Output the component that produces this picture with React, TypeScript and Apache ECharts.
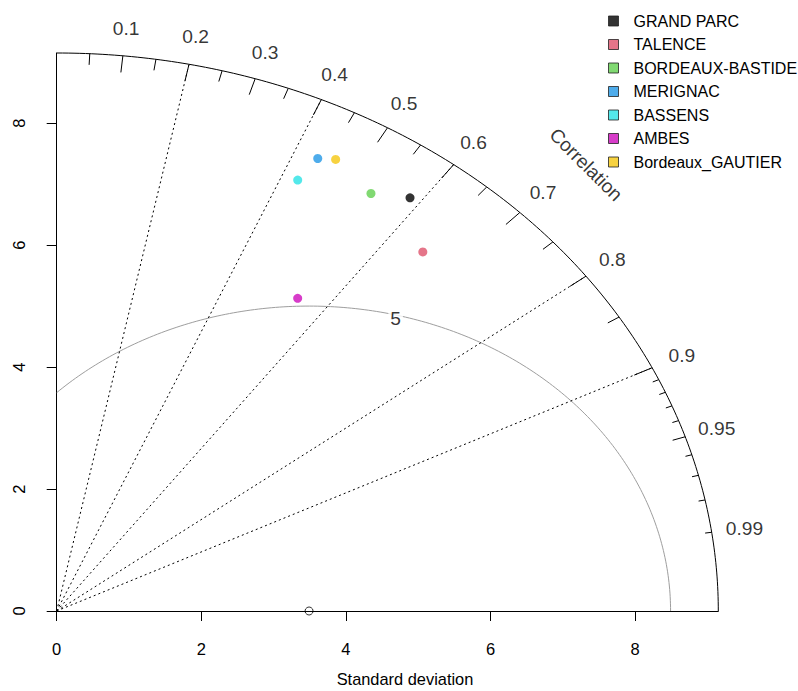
import React, { useEffect, useRef } from "react";
import * as echarts from "echarts";

// ---- data ----
const stations = [
  "GRAND PARC",
  "TALENCE",
  "BORDEAUX-BASTIDE",
  "MERIGNAC",
  "BASSENS",
  "AMBES",
  "Bordeaux_GAUTIER",
];
const stationSd = [8.353, 7.766, 8.109, 8.252, 7.813, 6.115, 8.35];
const stationCor = [0.585, 0.652, 0.536, 0.4375, 0.4266, 0.545, 0.462];
const stationColors = ["#000000", "#DF536B", "#61D04F", "#2297E6", "#28E2E5", "#CD0BBC", "#F5C710"];

const refSd = 3.49;
const maxSd = 9.15;
const rmsLevels = [5];
const rmsLabelAngleDeg = [76];
const corLines = [0.2, 0.4, 0.6, 0.8, 0.9];
const corLabels = [0.1, 0.2, 0.3, 0.4, 0.5, 0.6, 0.7, 0.8, 0.9, 0.95, 0.99];
const bigTicks = [0.1, 0.2, 0.3, 0.4, 0.5, 0.6, 0.7, 0.8, 0.9];
const medTicks = [0.05, 0.15, 0.25, 0.35, 0.45, 0.55, 0.65, 0.75, 0.85, 0.95];
const smallTicks = [0.91, 0.92, 0.93, 0.94, 0.96, 0.97, 0.98, 0.99];
const sdTicks = [0, 2, 4, 6, 8];

const FONT = "'Liberation Sans', Arial, sans-serif";
const PFONT = 19.2;

function polar(r: number, c: number): [number, number] {
  return [r * c, r * Math.sqrt(Math.max(0, 1 - c * c))];
}

export default function App() {
  const ref = useRef<HTMLDivElement>(null);
  useEffect(() => {
    if (!ref.current) return;
    const chart = echarts.init(ref.current, null, { renderer: "svg" });

    // outer arc
    const arc: number[][] = [];
    for (let a = 0; a <= 90.0001; a += 0.5) {
      const t = (a * Math.PI) / 180;
      arc.push([maxSd * Math.cos(t), maxSd * Math.sin(t)]);
    }

    // rms circles
    const rmsSeries = rmsLevels.map((g) => {
      const pts: number[][] = [];
      const tMax = Math.acos(Math.max(-1, -refSd / g));
      const n = 200;
      for (let i = 0; i <= n; i++) {
        const t = (tMax * i) / n;
        pts.push([refSd + g * Math.cos(t), g * Math.sin(t)]);
      }
      return {
        type: "line",
        data: pts,
        showSymbol: false,
        symbol: "none",
        clip: false,
        silent: true,
        lineStyle: { color: "#9E9E9E", width: 1 },
        z: 2,
      };
    });

    const rmsLabelData = rmsLevels.map((g, i) => {
      const t = (rmsLabelAngleDeg[i] * Math.PI) / 180;
      const r = g * 0.99;
      return [refSd + r * Math.cos(t), r * Math.sin(t), String(g)];
    });

    const corLineSeries = corLines.map((c) => ({
      type: "line",
      data: [[0, 0], polar(maxSd, c)],
      showSymbol: false,
      symbol: "none",
      clip: false,
      silent: true,
      lineStyle: { color: "#000", width: 1, type: [2, 3] },
      z: 2,
    }));

    const tickData = [
      ...bigTicks.map((c) => [c, 0.97]),
      ...medTicks.map((c) => [c, 0.98]),
      ...smallTicks.map((c) => [c, 0.99]),
    ];

    const corLabelData = corLabels.map((c) => {
      const p = polar(maxSd * 1.05, c);
      return [p[0], p[1], String(c)];
    });

    const stationSeries = stations.map((name, i) => ({
      type: "scatter",
      name,
      data: [polar(stationSd[i], stationCor[i])],
      symbol: "circle",
      symbolSize: 9,
      clip: false,
      itemStyle: { color: stationColors[i] },
      z: 5,
    }));

    const option: any = {
      animation: false,
      backgroundColor: "#fff",
      textStyle: { fontFamily: FONT },
      grid: { left: 56.7, top: 53, width: 661.6, height: 558, containLabel: false },
      xAxis: {
        type: "value",
        min: 0,
        max: maxSd,
        axisLine: { show: true, onZero: false, lineStyle: { color: "#000", width: 1 } },
        axisTick: { show: true, length: 10, customValues: sdTicks, lineStyle: { color: "#000" } },
        axisLabel: { customValues: sdTicks, fontSize: 16.5, color: "#000", margin: 29, fontFamily: FONT },
        splitLine: { show: false },
      },
      yAxis: {
        type: "value",
        min: 0,
        max: maxSd,
        axisLine: { show: true, onZero: false, lineStyle: { color: "#000", width: 1 } },
        axisTick: { show: true, length: 10, customValues: sdTicks, lineStyle: { color: "#000" } },
        axisLabel: { customValues: sdTicks, fontSize: 16.5, color: "#000", margin: 29, rotate: 90, fontFamily: FONT },
        splitLine: { show: false },
      },
      legend: {
        orient: "vertical",
        left: 608,
        top: 13,
        padding: 0,
        itemWidth: 10,
        itemHeight: 10,
        itemGap: 7.5,
        icon: "rect",
        itemStyle: { borderColor: "#222", borderWidth: 1 },
        textStyle: { fontSize: 16, color: "#000", fontFamily: FONT, padding: [0, 0, 0, 10] },
        data: stations,
      },
      graphic: [
        {
          type: "text",
          x: 405,
          y: 679,
          style: {
            text: "Standard deviation",
            fontSize: 16.4,
            fontFamily: FONT,
            fill: "#000",
            textAlign: "center",
            textVerticalAlign: "middle",
          },
        },
      ],
      series: [
        ...rmsSeries,
        ...corLineSeries,
        {
          type: "line",
          data: arc,
          showSymbol: false,
          symbol: "none",
          clip: false,
          silent: true,
          lineStyle: { color: "#000", width: 1 },
          z: 3,
        },
        {
          type: "custom",
          data: tickData,
          clip: false,
          silent: true,
          z: 3,
          renderItem: (params: any, api: any) => {
            const c = api.value(0);
            const f = api.value(1);
            const o = polar(maxSd, c);
            const inn = polar(maxSd * f, c);
            const p1 = api.coord(o);
            const p2 = api.coord(inn);
            return {
              type: "line",
              shape: { x1: p1[0], y1: p1[1], x2: p2[0], y2: p2[1] },
              style: { stroke: "#000", lineWidth: 1 },
            };
          },
        },
        {
          type: "scatter",
          data: corLabelData,
          symbol: "circle",
          symbolSize: 1,
          clip: false,
          silent: true,
          itemStyle: { color: "rgba(0,0,0,0)" },
          label: {
            show: true,
            position: "inside",
            formatter: (p: any) => p.value[2],
            fontSize: PFONT,
            color: "#000",
            fontFamily: FONT,
          },
        },
        {
          type: "scatter",
          data: [[0.8 * maxSd, 0.8 * maxSd, "Correlation"]],
          symbol: "circle",
          symbolSize: 1,
          clip: false,
          silent: true,
          itemStyle: { color: "rgba(0,0,0,0)" },
          label: {
            show: true,
            position: "inside",
            rotate: -45,
            formatter: (p: any) => p.value[2],
            fontSize: PFONT,
            color: "#000",
            fontFamily: FONT,
          },
        },
        {
          type: "scatter",
          data: rmsLabelData,
          symbol: "circle",
          symbolSize: 1,
          clip: false,
          silent: true,
          z: 4,
          itemStyle: { color: "rgba(0,0,0,0)" },
          label: {
            show: true,
            position: "inside",
            formatter: (p: any) => p.value[2],
            fontSize: PFONT,
            color: "#000",
            fontFamily: FONT,
            backgroundColor: "#fff",
            padding: [0, 2],
          },
        },
        {
          type: "scatter",
          data: [[refSd, 0]],
          symbol: "circle",
          symbolSize: 8,
          clip: false,
          silent: true,
          z: 5,
          itemStyle: { color: "rgba(0,0,0,0)", borderColor: "#000", borderWidth: 1 },
        },
        ...stationSeries,
      ],
    };
    chart.setOption(option);
    return () => chart.dispose();
  }, []);
  return (
    <div
      ref={ref}
      style={{ position: "fixed", left: 0, top: 0, width: 798, height: 691, background: "#fff" }}
    />
  );
}
